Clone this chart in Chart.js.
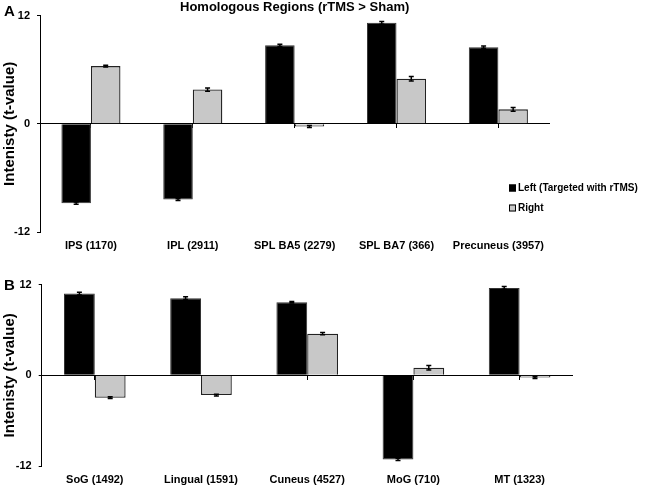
<!DOCTYPE html>
<html>
<head>
<meta charset="utf-8">
<script src="https://cdn.jsdelivr.net/npm/chart.js@4.4.1/dist/chart.umd.min.js"></script>
<style>
  html, body { margin: 0; padding: 0; background: #fff; }
  #wrap { position: relative; width: 645px; height: 491px; font-family: 'Liberation Sans', Arial, sans-serif; }
  .panel { position: absolute; left: 0; width: 645px; }
  #boxA { top: 0; height: 252px; }
  #boxB { top: 252px; height: 239px; }
  .tag { position: absolute; left: 4px; font-weight: bold; font-size: 15px; color: #000; }
</style>
</head>
<body>
<div id="wrap">
  <div class="panel" id="boxA"><canvas id="chartA"></canvas></div>
  <div class="panel" id="boxB"><canvas id="chartB"></canvas></div>
  <div class="tag" style="top:2px">A</div>
  <div class="tag" style="top:276px">B</div>
</div>
<script>
// panel A - homologous regions
const regionsA = ['IPS (1170)', 'IPL (2911)', 'SPL BA5 (2279)', 'SPL BA7 (366)', 'Precuneus (3957)'];
const leftA = [-8.8, -8.4, 8.7, 11.2, 8.5];
const rightA = [6.4, 3.8, -0.3, 5.0, 1.6];
const leftErrA = [0.12, 0.12, 0.12, 0.15, 0.12];
const rightErrA = [0.1, 0.18, 0.12, 0.25, 0.2];

// panel B
const regionsB = ['SoG (1492)', 'Lingual (1591)', 'Cuneus (4527)', 'MoG (710)', 'MT (1323)'];
const leftB = [10.8, 10.2, 9.65, -11.1, 11.55];
const rightB = [-2.95, -2.6, 5.5, 1.0, -0.3];
const leftErrB = [0.18, 0.18, 0.1, 0.15, 0.18];
const rightErrB = [0.12, 0.12, 0.15, 0.3, 0.1];

const yTicks = [-12, 0, 12];
const seriesNames = ['Left (Targeted with rTMS)', 'Right'];

const FONT = "'Liberation Sans', Arial, sans-serif";

// small error bars on top of each bar
const errorBars = {
    id: 'errorBars',
    afterDatasetsDraw(chart) {
        const ctx = chart.ctx;
        const y = chart.scales.y;
        chart.data.datasets.forEach((ds, i) => {
            const meta = chart.getDatasetMeta(i);
            meta.data.forEach((bar, j) => {
                const v = ds.data[j], e = ds.errors[j];
                const y1 = y.getPixelForValue(v + e);
                const y2 = y.getPixelForValue(v - e);
                ctx.save();
                ctx.strokeStyle = '#000';
                ctx.lineWidth = 1.5;
                ctx.beginPath();
                ctx.moveTo(bar.x, y1); ctx.lineTo(bar.x, y2);
                ctx.moveTo(bar.x - 2.5, y1); ctx.lineTo(bar.x + 2.5, y1);
                ctx.moveTo(bar.x - 2.5, y2); ctx.lineTo(bar.x + 2.5, y2);
                ctx.stroke();
                ctx.restore();
            });
        });
    }
};

// Excel-like legend sitting inside the plot, below the axis
const sideLegend = {
    id: 'sideLegend',
    afterDraw(chart, args, opts) {
        if (!opts || !opts.show) return;
        const ctx = chart.ctx;
        ctx.save();
        ctx.font = 'bold 10px ' + FONT;
        ctx.textBaseline = 'middle';
        chart.data.datasets.forEach((ds, i) => {
            const yy = opts.y + i * opts.gap;
            ctx.fillStyle = ds.backgroundColor;
            ctx.fillRect(opts.x, yy - 3.5, 7, 7);
            ctx.strokeStyle = '#000';
            ctx.lineWidth = 1;
            ctx.strokeRect(opts.x + 0.5, yy - 3, 6, 6);
            ctx.fillStyle = '#000';
            ctx.fillText(ds.label, opts.x + 9, yy);
        });
        ctx.restore();
    }
};

function makeChart(canvasId, labels, left, right, leftErr, rightErr, cfg) {
    return new Chart(document.getElementById(canvasId), {
        type: 'bar',
        data: {
            labels: labels,
            datasets: [{
                label: seriesNames[0],
                data: left,
                errors: leftErr,
                backgroundColor: '#000',
                borderColor: '#333',
                borderWidth: 1,
                categoryPercentage: 0.58,
                barPercentage: 1.0
            }, {
                label: seriesNames[1],
                data: right,
                errors: rightErr,
                backgroundColor: '#c8c8c8',
                borderColor: '#222',
                borderWidth: 1.3,
                categoryPercentage: 0.58,
                barPercentage: 1.0
            }]
        },
        options: {
            responsive: true,
            maintainAspectRatio: false,
            animation: false,
            layout: { padding: cfg.padding },
            plugins: {
                legend: { display: false },
                tooltip: { enabled: false },
                title: {
                    display: !!cfg.title,
                    text: cfg.title || '',
                    fullSize: false,
                    color: '#000',
                    font: { family: FONT, size: 13, weight: 'bold' },
                    padding: 0
                },
                sideLegend: cfg.legend || { show: false }
            },
            scales: {
                x: {
                    grid: { display: false, drawTicks: false },
                    border: { display: false },
                    afterFit: s => { s.height = 20; },
                    ticks: {
                        color: '#000',
                        font: { family: FONT, size: 11, weight: 'bold' },
                        padding: 7,
                        maxRotation: 0,
                        autoSkip: false
                    }
                },
                x2: {
                    type: 'category',
                    axis: 'x',
                    position: { y: 0 },
                    offset: true,
                    afterFit: s => { s.height = 0; },
                    grid: { drawOnChartArea: false, offset: false, color: '#000', tickLength: 4 },
                    border: { color: '#000', width: 1 },
                    ticks: { display: false }
                },
                y: {
                    min: -12,
                    max: 12,
                    afterBuildTicks: s => { s.ticks = yTicks.map(v => ({ value: v })); },
                    afterFit: s => { s.width = cfg.axisLeft; },
                    ticks: {
                        color: '#000',
                        font: { family: FONT, size: 11, weight: 'bold' },
                        padding: 7
                    },
                    grid: { drawOnChartArea: false, color: '#000', tickLength: 3 },
                    border: { color: '#000', width: 1 },
                    title: {
                        display: true,
                        text: 'Intenisty (t-value)',
                        color: '#000',
                        font: { family: FONT, size: 15, weight: 'bold' },
                        padding: { top: 1, bottom: 0 }
                    }
                }
            }
        },
        plugins: [errorBars, sideLegend]
    });
}

makeChart('chartA', regionsA, leftA, rightA, leftErrA, rightErrA, {
    title: 'Homologous Regions (rTMS > Sham)',
    padding: { left: 0, right: 95.7, top: 0, bottom: 0 },
    axisLeft: 40,
    legend: { show: true, x: 509, y: 188, gap: 20 }
});

makeChart('chartB', regionsB, leftB, rightB, leftErrB, rightErrB, {
    padding: { left: 0, right: 72.3, top: 32.5, bottom: 4.8 },
    axisLeft: 41.7
});
</script>
</body>
</html>
